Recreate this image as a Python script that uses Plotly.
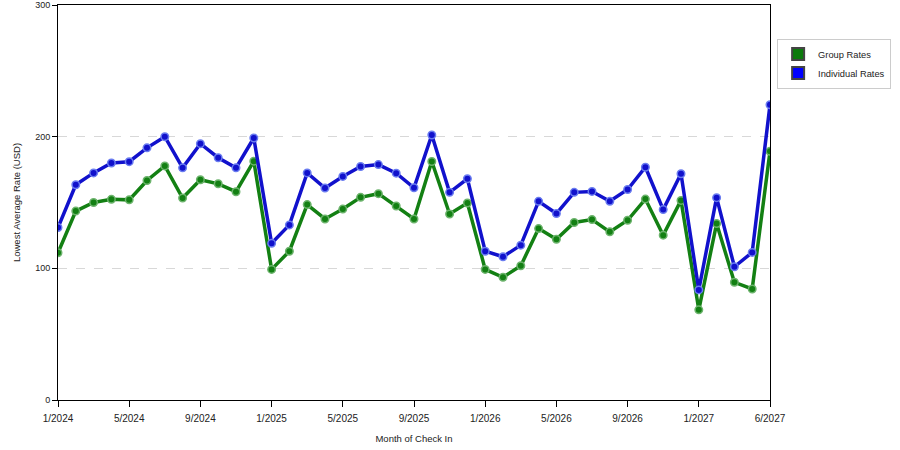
import plotly.graph_objects as go

# monthly lowest average rates, Jan 2024 onwards (41 points)
group_rates = [111.8, 143.5, 150, 152.4, 152, 166.7, 177.8, 153.4, 167.3, 164.2,
               158.2, 181.4, 99.2, 113, 148.4, 137.5, 145, 153.9, 156.7, 147.3,
               137.5, 181.1, 141.3, 149.6, 99.2, 93.2, 102, 130.2, 122.1, 134.8,
               137, 127.7, 136.5, 152.6, 125.2, 151.6, 68.5, 134, 89.4, 84.3, 188.9]
individual_rates = [131, 163.5, 172.5, 180, 181, 191.5, 200, 176.3, 194.7, 184,
                    176.3, 199, 119, 133, 172.5, 161, 169.8, 177.3, 178.8, 172.3,
                    161.2, 201.3, 157.7, 168, 113, 108.8, 117.6, 150.9, 141.6, 157.7,
                    158.4, 150.9, 159.9, 176.8, 144.6, 171.8, 83.6, 153.7, 101.2, 112.1, 224.2]
tick_pos = [0, 4, 8, 12, 16, 20, 24, 28, 32, 36, 40]
tick_labels = ["1/2024", "5/2024", "9/2024", "1/2025", "5/2025", "9/2025",
               "1/2026", "5/2026", "9/2026", "1/2027", "6/2027"]

x = list(range(len(group_rates)))
green = "#138013"
blue = "#1111cc"

fig = go.Figure()
#actual lines, drawn without legend entries
for name, vals, col, edge in [("Group Rates", group_rates, green, "#6cb36c"),
                              ("Individual Rates", individual_rates, blue, "#6a7cf0")]:
    fig.add_trace(go.Scatter(
        x=x, y=vals, mode="lines+markers", name=name, showlegend=False,
        line=dict(color=col, width=3.5),
        marker=dict(color=col, size=7.5, line=dict(color=edge, width=1.5))
    ))
#square swatches for the legend
for name, col in [("Group Rates", "#0c7a0c"), ("Individual Rates", "#0000ff")]:
    fig.add_trace(go.Scatter(
        x=[None], y=[None], mode="markers", name=name,
        marker=dict(symbol="square", size=12, color=col, line=dict(color="#444", width=0.5))
    ))

fig.update_layout(
    width=900, height=450,
    margin=dict(l=58, r=130, t=5, b=50),
    paper_bgcolor="white", plot_bgcolor="white",
    font=dict(family="Liberation Sans, Arial", size=9, color="#222"),
    legend=dict(x=1.01, y=0.915, xanchor="left", yanchor="top",
                bordercolor="#cccccc", borderwidth=1, bgcolor="white",
                font=dict(size=9.3), itemsizing="constant", tracegroupgap=2),
    xaxis=dict(
        range=[0, 40], tickmode="array", tickvals=tick_pos, ticktext=tick_labels,
        showgrid=False, zeroline=False, showline=True, linecolor="black", linewidth=1,
        mirror=True, ticks="outside", ticklen=6, tickcolor="black", automargin=False,
        tickfont=dict(size=10), ticklabelstandoff=3,
        title=dict(text="Month of Check In", font=dict(size=9.5), standoff=12)
    ),
    yaxis=dict(
        range=[0, 300], tickvals=[0, 100, 200, 300],
        showgrid=True, gridcolor="#d8d8d8", griddash="dash", gridwidth=1,
        zeroline=False, showline=True, linecolor="black", linewidth=1,
        mirror=True, ticks="outside", ticklen=5, tickcolor="black", automargin=False,
        tickfont=dict(size=9),
        title=dict(text="Lowest Average Rate (USD)", font=dict(size=9.5), standoff=12)
    ),
)

#drop the page's default 8px body margin so the chart sits at the window corner
fig.write_html("out.html", config={"displayModeBar": False},
               post_script="document.body.style.margin='0px';")
